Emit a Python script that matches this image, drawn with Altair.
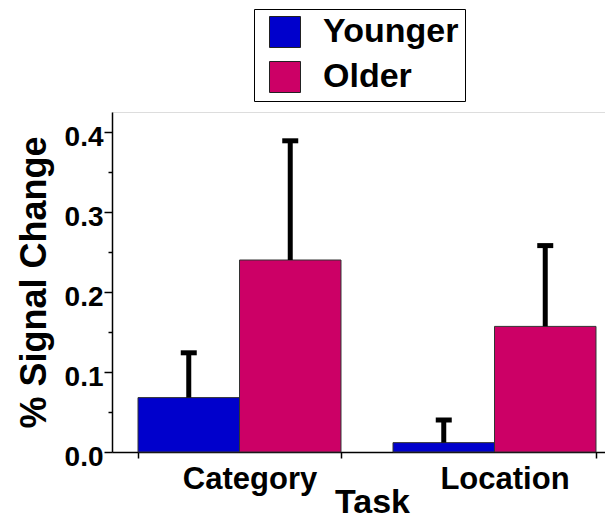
import altair as alt
import pandas as pd

tasks = ["Category", "Category", "Location", "Location"]
groups = ["Younger", "Older", "Younger", "Older"]
means = [0.068, 0.240, 0.0117, 0.157]
upper = [0.124, 0.389, 0.040, 0.258]

group_order = ["Younger", "Older"]
group_colors = ["#0000CC", "#CC0066"]
y_ticks = [0.0, 0.05, 0.1, 0.15, 0.2, 0.25, 0.3, 0.35, 0.4]

df = pd.DataFrame({"Task": tasks, "Group": groups, "Mean": means, "Upper": upper})

FONT = "Liberation Sans"

x_scale = alt.Scale(paddingInner=0.204, paddingOuter=0.102, range=[0, 510])
x_enc = alt.X(
    "Task:N",
    scale=x_scale,
    axis=alt.Axis(
        tickBand="extent", labelAngle=0, title="Task",
        titleFontSize=34, titleFont=FONT, titleFontWeight="bold",
        titleY=60, titleBaseline="alphabetic", titleX=260,
        labelFontSize=31, labelFont=FONT, labelFontWeight="bold",
        labelPadding=6, labelOffset=10, tickSize=6, tickWidth=1.5,
        tickColor="black", domainColor="black", domainWidth=1.5,
        labelColor="black", titleColor="black",
    ),
)
xoff = alt.XOffset("Group:N", sort=group_order,
                   scale=alt.Scale(paddingInner=0, paddingOuter=0))
y_scale = alt.Scale(domain=[0, 0.425], nice=False, zero=True)

bars = alt.Chart(df).mark_bar(stroke="#333333", strokeWidth=1).encode(
    x=x_enc,
    xOffset=xoff,
    y=alt.Y(
        "Mean:Q", scale=y_scale,
        axis=alt.Axis(
            values=y_ticks,
            labelExpr="round(datum.value*100) % 10 == 0 ? format(datum.value, '.1f') : ''",
            tickSize={"condition": {"test": "round(datum.value*100) % 10 == 0", "value": 8}, "value": 4},
            tickColor="black", tickWidth=1.5, domainColor="black", domainWidth=1.5,
            labelFontSize=28, labelFont=FONT, labelFontWeight="bold", labelColor="black",
            labelPadding=1, labelOffset=5, grid=False,
            title="% Signal Change", titleFontSize=36, titleFont=FONT,
            titleFontWeight="bold", titleColor="black",
            titleX=-67, titleY=170, titleAngle=270, titleAlign="center",
            titleBaseline="alphabetic",
        ),
    ),
    color=alt.Color(
        "Group:N", sort=group_order,
        scale=alt.Scale(domain=group_order, range=group_colors),
        legend=alt.Legend(
            orient="none", legendX=142, legendY=-103, title=None,
            symbolType="square", symbolSize=961, symbolStrokeColor="#222222",
            symbolStrokeWidth=1, symbolOpacity=1, symbolOffset=8,
            labelFontSize=34, labelFont=FONT, labelFontWeight="bold", labelColor="black",
            labelOffset=21, rowPadding=9, padding=6,
            strokeColor="black", fillColor="white",
        ),
    ),
)

stems = alt.Chart(df).mark_rule(color="black", strokeWidth=5).encode(
    x=alt.X("Task:N", scale=x_scale),
    xOffset=xoff,
    y=alt.Y("Mean:Q", scale=y_scale),
    y2="Upper:Q",
)

caps = alt.Chart(df).mark_tick(color="black", size=16, thickness=5, opacity=1).encode(
    x=alt.X("Task:N", scale=x_scale),
    xOffset=xoff,
    y=alt.Y("Upper:Q", scale=y_scale),
)

chart = alt.layer(bars, stems, caps).properties(
    width=493, height=340,
    autosize=alt.AutoSizeParams(type="none"),
    padding={"left": 104, "top": 104, "right": 0, "bottom": 67},
).configure_view(stroke=None).configure(font=FONT)

chart.save("out.html", embed_options={"renderer": "svg", "actions": False})
